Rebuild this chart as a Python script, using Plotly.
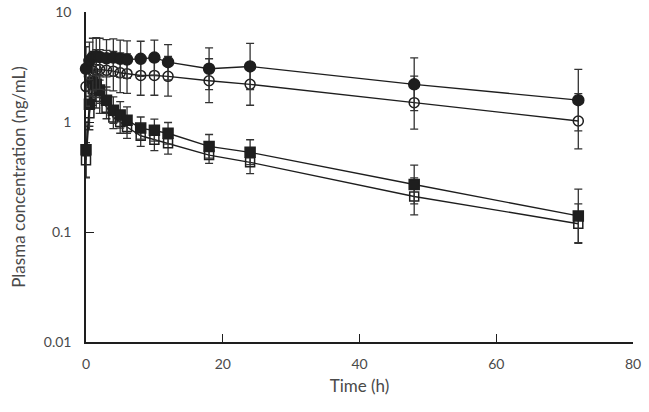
import plotly.graph_objects as go

# sampling times (h)
time_h = [0, 0.5, 1, 1.5, 2, 3, 4, 5, 6, 8, 10, 12, 18, 24, 48, 72]

# filled circles
conc_a = [3.05, 3.6, 3.9, 3.95, 3.9, 3.8, 3.85, 3.75, 3.7, 3.75, 3.85, 3.5, 3.05, 3.2, 2.2, 1.58]
upper_a = [4.83, 5.32, 5.77, 5.84, 5.77, 5.62, 5.69, 5.55, 5.47, 5.42, 5.56, 5.06, 4.72, 5.19, 3.82, 3.01]
lower_a = [1.92, 2.43, 2.64, 2.67, 2.64, 2.57, 2.60, 2.54, 2.50, 2.60, 2.66, 2.42, 1.97, 1.97, 1.27, 0.83]

# open circles
conc_b = [2.1, 2.6, 2.9, 3.0, 3.0, 2.95, 2.9, 2.8, 2.75, 2.65, 2.65, 2.6, 2.37, 2.2, 1.5, 1.02]
upper_b = [3.18, 3.94, 4.39, 4.54, 4.54, 4.47, 4.39, 4.24, 4.16, 4.01, 4.01, 3.94, 3.76, 3.41, 2.61, 1.81]
lower_b = [1.39, 1.72, 1.92, 1.98, 1.98, 1.95, 1.92, 1.85, 1.82, 1.75, 1.75, 1.72, 1.50, 1.42, 0.86, 0.57]

# filled squares
conc_c = [0.56, 1.45, 2.3, 2.2, 1.95, 1.58, 1.28, 1.16, 1.04, 0.88, 0.84, 0.79, 0.6, 0.53, 0.27, 0.14]
upper_c = [1.0, 2.30, 3.03, 2.90, 2.57, 2.08, 1.69, 1.53, 1.37, 1.11, 1.06, 0.99, 0.77, 0.69, 0.405, 0.245]
lower_c = [0.315, 0.915, 1.75, 1.67, 1.48, 1.20, 0.97, 0.88, 0.79, 0.70, 0.67, 0.63, 0.47, 0.41, 0.18, 0.08]

# open squares
conc_d = [0.45, 1.2, 2.0, 1.9, 1.7, 1.35, 1.1, 1.0, 0.9, 0.75, 0.69, 0.64, 0.5, 0.43, 0.21, 0.119]
upper_d = [0.65, 1.70, 2.83, 2.68, 2.40, 1.70, 1.38, 1.26, 1.13, 0.94, 0.87, 0.81, 0.60, 0.55, 0.31, 0.18]
lower_d = [0.31, 0.85, 1.42, 1.34, 1.20, 1.07, 0.87, 0.79, 0.71, 0.60, 0.55, 0.51, 0.42, 0.34, 0.143, 0.079]

INK = "#1e1e1e"
FONT = "Lato, 'Open Sans', sans-serif"

fig = go.Figure()

series = [
    (conc_d, upper_d, lower_d, "square-open", 9),
    (conc_c, upper_c, lower_c, "square", 10),
    (conc_b, upper_b, lower_b, "circle-open", 10),
    (conc_a, upper_a, lower_a, "circle", 11),
]

for conc, upper, lower, symbol, size in series:
    fig.add_trace(go.Scatter(
        x=time_h,
        y=conc,
        mode="lines+markers",
        line=dict(color=INK, width=1.4),
        marker=dict(symbol=symbol, size=size, color=INK,
                    line=dict(color=INK, width=1.5)),
        error_y=dict(
            type="data",
            symmetric=False,
            array=[u - c for u, c in zip(upper, conc)],
            arrayminus=[c - l for c, l in zip(conc, lower)],
            color="#333333",
            thickness=1.3,
            width=4,
        ),
        cliponaxis=False,
        showlegend=False,
    ))

fig.update_layout(
    width=649,
    height=412,
    margin=dict(l=86, r=16, t=12, b=70),
    plot_bgcolor="white",
    paper_bgcolor="white",
    font=dict(family=FONT, size=14, color="#4a4a4a"),
    xaxis=dict(
        range=[0, 80],
        tickvals=[0, 20, 40, 60, 80],
        ticks="inside",
        ticklen=8,
        tickcolor=INK,
        ticklabelstandoff=8,
        ticklabeloverflow="allow",
        automargin=False,
        showline=True,
        linecolor=INK,
        linewidth=1.5,
        showgrid=False,
        zeroline=False,
        title=dict(text="Time (h)", standoff=10),
    ),
    yaxis=dict(
        type="log",
        range=[-2, 1],
        tickvals=[0.01, 0.1, 1, 10],
        ticktext=["0.01", "0.1", "1", "10"],
        ticks="inside",
        ticklen=8,
        tickcolor=INK,
        ticklabelstandoff=10,
        ticklabeloverflow="allow",
        automargin=False,
        showline=True,
        linecolor=INK,
        linewidth=1.5,
        showgrid=False,
        zeroline=False,
        title=dict(text="Plasma concentration (ng/mL)", standoff=14),
    ),
)

# drop the browser's default 8px body margin so the figure fills the window
fig.write_html(
    "out.html",
    config={"displayModeBar": False},
    post_script="document.body.style.margin = '0';",
)
